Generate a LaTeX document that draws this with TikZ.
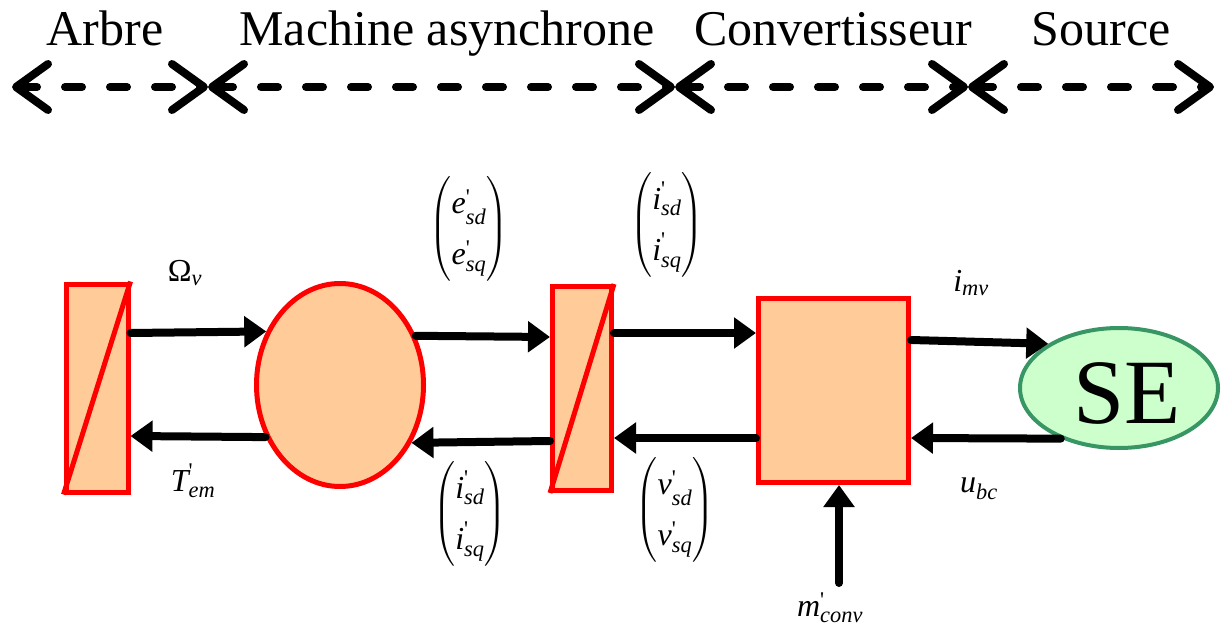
\documentclass[tikz,border=0pt]{standalone}
\usepackage{amsmath}
\usepackage{fontspec}
\setmainfont{Liberation Serif}
\usepackage{xcolor}
\usepackage{tikz}
\usetikzlibrary{arrows.meta,shapes.geometric,positioning}

\definecolor{peach}{RGB}{255,204,153}
\definecolor{segreen}{RGB}{204,255,204}
\definecolor{sedge}{RGB}{56,150,100}
\newcommand{\vi}[1]{\text{\itshape #1}}
\newcommand{\pr}{\text{\textquotesingle}}

\begin{document}
\begin{tikzpicture}[x=1pt,y=-1pt,
  bloc/.style={draw=red,line width=5pt,fill=peach,inner sep=0pt},
  flow/.style={line width=8pt,line cap=round,-{Triangle[length=22pt,width=30pt]}},
  zone/.style={line width=8pt,line cap=round,dash pattern=on 17pt off 28pt,
    {Straight Barb[length=32pt,width=46pt,round]}-{Straight Barb[length=32pt,width=46pt,round]}},
  titre/.style={anchor=base,font=\fontsize{50}{60}\selectfont},
  lbl/.style={font=\fontsize{32}{38}\selectfont\def\arraystretch{1.35}}]
  \useasboundingbox (0,0) rectangle (1222,628);
  % zones
  \node[titre] (tarbre) at (105,46) {Arbre};
  \node[titre] (tmas) at (447,46) {Machine asynchrone};
  \node[titre] (tconv) at (833,46) {Convertisseur};
  \node[titre] (tsource) at (1101,46) {Source};
  \coordinate (z0) at (12,87);
  \coordinate (z1) at (208,87);
  \coordinate (z2) at (675,87);
  \coordinate (z3) at (968,87);
  \coordinate (z4) at (1214,87);
  \foreach \a/\b in {z0/z1,z1/z2,z2/z3,z3/z4}
    \draw[zone] (\a) -- (\b);
  % blocs
  \node[bloc,minimum width=62pt,minimum height=208pt] (arbre) at (97,388) {};
  \draw[red,line width=5pt] (arbre.south west) -- (arbre.north east);
  \node[bloc,ellipse,minimum width=167pt,minimum height=203pt] (mas) at (340,385) {};
  \node[bloc,minimum width=59pt,minimum height=204pt] (ond) at (582,388.5) {};
  \draw[red,line width=5pt] (ond.south west) -- (ond.north east);
  \node[bloc,minimum width=150pt,minimum height=184pt] (conv) at (833.5,390.5) {};
  \node[ellipse,draw=sedge,line width=4pt,fill=segreen,inner sep=0pt,
        minimum width=198pt,minimum height=120pt] (se) at (1119,388) {};
  \node[font=\fontsize{92}{96}\selectfont,inner sep=0pt] (setxt) at (1127,393) {SE};
  % liaisons
  \draw[flow] ([yshift=55pt]arbre.east) -- (mas.144);
  \draw[flow] (mas.215) -- ([yshift=-48pt]arbre.east);
  \draw[flow] (mas.33) -- ([yshift=51.5pt]ond.west);
  \draw[flow] ([yshift=-52.5pt]ond.west) -- (mas.321);
  \draw[flow] ([yshift=55.5pt]ond.east) -- ([yshift=57.5pt]conv.west);
  \draw[flow] ([yshift=-47.5pt]conv.west) -- ([yshift=-49.5pt]ond.east);
  \draw[flow] ([yshift=50.5pt]conv.east) -- (se.148);
  \draw[flow] (se.221) -- ([yshift=-47.5pt]conv.east);
  \coordinate (mcmd) at (839,583);
  \draw[flow] (mcmd) -- ([xshift=5.5pt]conv.south);
  % grandeurs
  \node[lbl] (omega) at (185,273) {$\text{Ω}_{\vi{v}}$};
  \node[lbl] (tem) at (193,481) {$\vi{T}^{\pr}_{\vi{em}}$};
  \node[lbl] (emf) at (469,229) {$\begin{pmatrix}\vi{e}^{\pr}_{\vi{sd}}\\ \vi{e}^{\pr}_{\vi{sq}}\end{pmatrix}$};
  \node[lbl] (iout) at (667,225) {$\begin{pmatrix}\vi{i}^{\pr}_{\vi{sd}}\\ \vi{i}^{\pr}_{\vi{sq}}\end{pmatrix}$};
  \node[lbl] (iin) at (470,514) {$\begin{pmatrix}\vi{i}^{\pr}_{\vi{sd}}\\ \vi{i}^{\pr}_{\vi{sq}}\end{pmatrix}$};
  \node[lbl] (vs) at (675,510) {$\begin{pmatrix}\vi{v}^{\pr}_{\vi{sd}}\\ \vi{v}^{\pr}_{\vi{sq}}\end{pmatrix}$};
  \node[lbl] (imv) at (971,283) {$\vi{i}_{\vi{mv}}$};
  \node[lbl] (ubc) at (979,489) {$\vi{u}_{\vi{bc}}$};
  \node[lbl] (mconv) at (830,608) {$\vi{m}^{\pr}_{\vi{conv}}$};
\end{tikzpicture}
\end{document}
